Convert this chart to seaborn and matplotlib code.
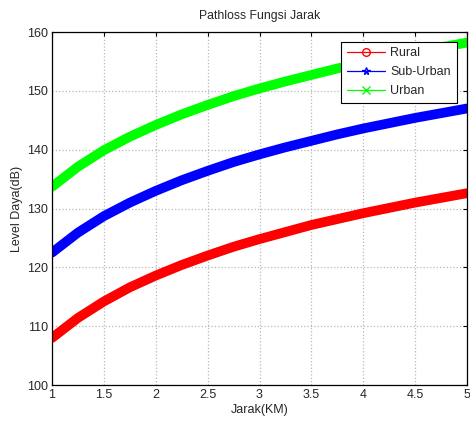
import pandas as pd
import matplotlib
matplotlib.use("Agg")
import matplotlib.pyplot as plt
import seaborn as sns
from matplotlib.lines import Line2D

# values (dB vs km)
jarak = [1, 1.25, 1.5, 1.75, 2, 2.25, 2.5, 2.75, 3, 3.25, 3.5, 3.75, 4, 4.25, 4.5, 4.75, 5]
rural = [108.0, 111.4, 114.2, 116.6, 118.6, 120.4, 122.0, 123.5, 124.8, 126.0,
         127.2, 128.2, 129.2, 130.1, 131.0, 131.8, 132.6]
sub_urban = [122.5, 125.9, 128.7, 131.0, 133.0, 134.8, 136.4, 137.9, 139.2, 140.4,
             141.5, 142.6, 143.6, 144.5, 145.4, 146.2, 147.0]
urban = [133.7, 137.1, 139.9, 142.2, 144.2, 146.0, 147.6, 149.1, 150.4, 151.6,
         152.7, 153.8, 154.8, 155.7, 156.6, 157.4, 158.2]

names = ["Rural", "Sub-Urban", "Urban"]
colors = ["#ff0000", "#0000ff", "#00ff00"]
markers = ["o", "*", "x"]

df = pd.DataFrame({"Jarak": jarak, "Rural": rural, "Sub-Urban": sub_urban, "Urban": urban})
long_df = df.melt(id_vars="Jarak", var_name="Area", value_name="Level")

sns.set_style("white")
plt.rcParams["font.family"] = ["Liberation Sans", "DejaVu Sans"]

fig = plt.figure(figsize=(4.7, 4.22), dpi=100)
ax = fig.add_axes([52 / 470, 37 / 422, 415 / 470, 353 / 422])

sns.lineplot(data=long_df, x="Jarak", y="Level", hue="Area", palette=colors,
             linewidth=7, legend=False, ax=ax,
             solid_capstyle="round", solid_joinstyle="round")

ax.set_xlim(1, 5)
ax.set_ylim(100, 160)
ax.set_xticks([1, 1.5, 2, 2.5, 3, 3.5, 4, 4.5, 5])
ax.set_xticklabels(["1", "1.5", "2", "2.5", "3", "3.5", "4", "4.5", "5"])
ax.set_yticks(range(100, 161, 10))
ax.grid(True, color="#b8b8b8", linestyle=":", linewidth=0.9)
ax.tick_params(direction="in", length=3, labelsize=9, top=True, right=True,
               color="black", pad=3)
for s in ax.spines.values():
    s.set_color("black")
    s.set_linewidth(0.9)

ax.set_title("Pathloss Fungsi Jarak", fontsize=8.8, pad=9)
ax.set_xlabel("Jarak(KM)", fontsize=9, labelpad=2)
ax.set_ylabel("Level Daya(dB)", fontsize=9, labelpad=3)

handles = [Line2D([0], [0], color=c, marker=m, markersize=5.5, linewidth=0.9,
                  markerfacecolor="none", markeredgecolor=c, label=n)
           for n, c, m in zip(names, colors, markers)]
leg = ax.legend(handles=handles, loc="upper right", fontsize=9, frameon=True,
                fancybox=False, edgecolor="black", framealpha=1,
                borderpad=0.45, labelspacing=0.55, handlelength=3.1,
                handletextpad=0.4, bbox_to_anchor=(0.99, 0.99))
leg.get_frame().set_linewidth(0.8)

fig.savefig("out.png", dpi=100)
